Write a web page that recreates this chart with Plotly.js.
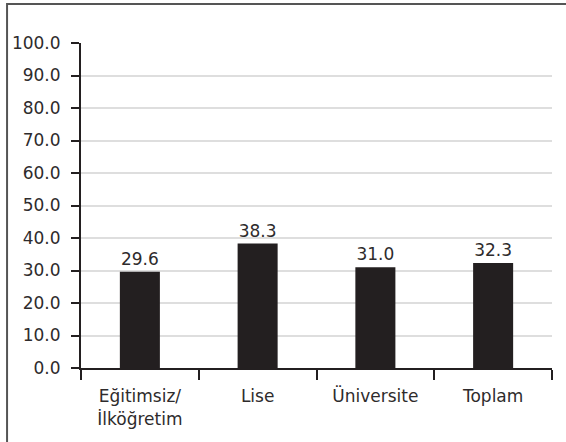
<!DOCTYPE html>
<html>
<head>
<meta charset="utf-8">
<script src="https://cdn.plot.ly/plotly-3.0.1.min.js"></script>
<style>
  html, body { margin: 0; padding: 0; background: #fff; }
  #chart { width: 566px; height: 442px; }
</style>
</head>
<body>
<div id="chart"></div>
<script>
// Education level categories and their shares
const categories = ["Eğitimsiz/<br>İlköğretim", "Lise", "Üniversite", "Toplam"];
const values = [29.6, 38.3, 31.0, 32.3];
const valueLabels = ["29.6", "38.3", "31.0", "32.3"];
const yTicks = [0, 10, 20, 30, 40, 50, 60, 70, 80, 90, 100];

const ink = "#231f20";
const textInk = "#2e2b2c";
const fontFamily = "DejaVu Sans, sans-serif";
const fontSize = 17;

const trace = {
  type: "bar",
  x: categories,
  y: values,
  text: valueLabels,
  textposition: "outside",
  cliponaxis: false,
  textfont: { family: fontFamily, size: fontSize, color: textInk },
  marker: { color: ink },
  hoverinfo: "skip"
};

const layout = {
  width: 566,
  height: 442,
  margin: { l: 81, r: 14, t: 43, b: 74 },
  paper_bgcolor: "#ffffff",
  plot_bgcolor: "#ffffff",
  showlegend: false,
  bargap: 0.66,
  font: { family: fontFamily, size: fontSize, color: textInk },
  xaxis: {
    type: "category",
    showgrid: false,
    showline: true,
    linecolor: ink,
    linewidth: 2,
    ticks: "outside",
    tickson: "boundaries",
    ticklen: 10,
    tickwidth: 2,
    tickcolor: ink,
    ticklabelstandoff: 12,
    tickfont: { family: fontFamily, size: fontSize, color: textInk },
    zeroline: false
  },
  yaxis: {
    range: [0, 100],
    tickvals: yTicks,
    tickformat: ".1f",
    showgrid: true,
    gridcolor: "#dedede",
    gridwidth: 2,
    showline: true,
    linecolor: ink,
    linewidth: 2,
    ticks: "outside",
    ticklen: 8,
    tickwidth: 2,
    tickcolor: ink,
    ticklabelstandoff: 7,
    tickfont: { family: fontFamily, size: fontSize, color: textInk },
    zeroline: false
  },
  shapes: [
    {
      // frame around the figure (open towards the right and bottom edges)
      type: "rect",
      xref: "paper", yref: "paper",
      x0: -0.157, x1: 1.1,
      y0: -0.3, y1: 1.12,
      line: { color: "#555555", width: 2 },
      fillcolor: "rgba(0,0,0,0)",
      layer: "above"
    }
  ]
};

Plotly.newPlot("chart", [trace], layout, { displayModeBar: false, staticPlot: true });
</script>
</body>
</html>
